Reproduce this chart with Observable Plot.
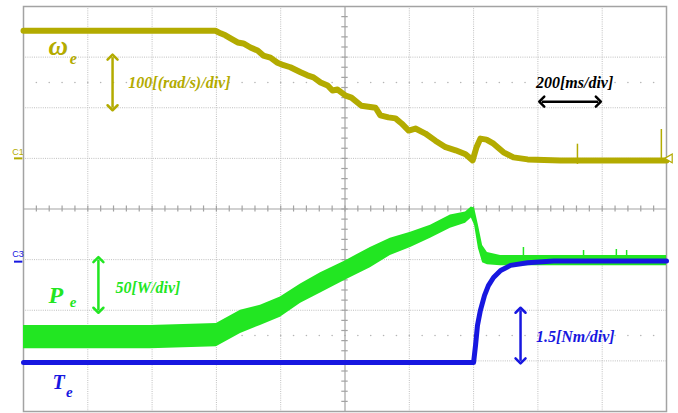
<!DOCTYPE html>
<html>
<head>
<meta charset="utf-8">
<script src="https://cdn.jsdelivr.net/npm/d3@7"></script>
<script src="https://cdn.jsdelivr.net/npm/@observablehq/plot@0.6"></script>
<style>
  html, body { margin: 0; padding: 0; background: #fff; }
  #chart svg { display: block; }
</style>
</head>
<body>
<div id="chart"></div>
<script>
// Screen: 10 horizontal divisions of 200 ms, 8 vertical divisions
const timeDomain = [0, 2000];
const divDomain = [0, 8];

// Channel scaling (units per division) and ground level (divisions from bottom)
const omegaPerDiv = 100, omegaZero = 5;
const powerPerDiv = 50, powerZero = 3;
const torquePerDiv = 1.5, torqueZero = 3;

// ω_e : electrical speed [rad/s]
const omegaTime  = [0, 597, 613, 628, 644, 666, 684, 706, 728, 746, 768, 790, 809, 830, 862, 883, 902, 924, 946, 961, 977, 1002, 1020, 1051, 1073, 1095, 1110, 1135, 1157, 1176, 1198, 1219, 1250, 1281, 1313, 1344, 1375, 1397, 1409, 1421, 1440, 1462, 1493, 1524, 1568, 1670, 2000];
const omegaValue = [252, 252, 247, 243, 237, 229, 227, 219, 213, 203, 199, 189, 184, 180, 170, 164, 160, 150, 144, 134, 136, 124, 120, 104, 102, 100, 85, 81, 79, 69, 55, 59, 49, 35, 22, 16, 8, -4, 22, 39, 37, 29, 12, 2, -2, -4, -4];
// isolated glitches on the speed trace: time, low, high
const omegaSpikeTime = [1723, 1984];
const omegaSpikeLow  = [-12, -4];
const omegaSpikeHigh = [28, 57];

// P_e : electrical power [W], upper and lower edge of the noisy trace
const powerTime  = [0, 240, 395, 600, 675, 737, 799, 862, 924, 1002, 1079, 1141, 1204, 1266, 1328, 1375, 1393, 1403, 1415, 1428, 1443, 1484, 2000];
const powerUpper = [-65, -65, -65, -63, -50, -45, -37, -24, -13, -1, 12, 21, 27, 34, 44, 47, 52, 51, 34, 14, 7, 4, 4];
const powerLower = [-88, -88, -88, -86, -73, -65, -57, -43, -33, -20, -8, 4, 12, 21, 31, 36, 41, 34, 11, -3, -5, -6, -6];
const powerSpikeTime = [1555, 1742, 1844, 1876];
const powerSpikeHigh = [12, 9, 10, 9];

// T_e : electromagnetic torque [Nm]
const torqueTime  = [0, 1400, 1406, 1412, 1421, 1434, 1446, 1462, 1484, 1515, 1568, 1649, 2000];
const torqueValue = [-3.05, -3.05, -2.54, -1.95, -1.51, -1.06, -0.77, -0.53, -0.32, -0.17, -0.09, -0.04, -0.04];

const olive = "#b3ab00";
const green = "#22e622";
const blue  = "#1717e0";
const serif = "Liberation Serif, Times New Roman, serif";

const toDiv = (v, per, zero) => zero + v / per;

const omega = omegaTime.map((t, i) => ({t, y: toDiv(omegaValue[i], omegaPerDiv, omegaZero)}));
const omegaSpikes = omegaSpikeTime.map((t, i) => ({t, y1: toDiv(omegaSpikeLow[i], omegaPerDiv, omegaZero), y2: toDiv(omegaSpikeHigh[i], omegaPerDiv, omegaZero)}));
const power = powerTime.map((t, i) => ({t, lo: toDiv(powerLower[i], powerPerDiv, powerZero), hi: toDiv(powerUpper[i], powerPerDiv, powerZero)}));
const powerSpikes = powerSpikeTime.map((t, i) => ({t, y1: toDiv(0, powerPerDiv, powerZero), y2: toDiv(powerSpikeHigh[i], powerPerDiv, powerZero)}));
const torque = torqueTime.map((t, i) => ({t, y: toDiv(torqueValue[i], torquePerDiv, torqueZero)}));

// Scale annotations: one-division arrows and their captions
const arrows = [
  {x1: 277, y1: 6, x2: 277, y2: 7, color: olive},
  {x1: 233, y1: 2, x2: 233, y2: 3, color: green},
  {x1: 1546, y1: 1, x2: 1546, y2: 2, color: blue},
  {x1: 1612, y1: 6.12, x2: 1788, y2: 6.12, color: "#000"}
];
const captions = [
  {t: 326, y: 6.5, text: "100[(rad/s)/div]", color: olive},
  {t: 1594, y: 6.5, text: "200[ms/div]", color: "#000"},
  {t: 286, y: 2.45, text: "50[W/div]", color: green},
  {t: 1594, y: 1.47, text: "1.5[Nm/div]", color: blue}
];
// Trace names with their subscripts
const symbols = [
  {t: 78, y: 7.21, text: "ω", size: 27, color: olive},
  {t: 144, y: 6.97, text: "e", size: 16, color: olive},
  {t: 78, y: 2.3, text: "P", size: 24, color: green},
  {t: 144, y: 2.16, text: "e", size: 15, color: green},
  {t: 90, y: 0.58, text: "T", size: 20, color: blue},
  {t: 132, y: 0.39, text: "e", size: 15, color: blue}
];
// Channel ground markers in the left margin
const channelTags = [
  {t: -17, y: 5.13, text: "C1", color: olive},
  {t: -17, y: 3.11, text: "C3", color: blue}
];
const channelLines = [
  {x1: -28, x2: -2, y: 5.0, color: olive},
  {x1: -28, x2: -2, y: 2.96, color: blue}
];

const gridColor = "#bfbfbf";
const axisColor = "#a3a3a3";

const chart = Plot.plot({
  width: 678,
  height: 413,
  marginLeft: 23,
  marginRight: 12,
  marginTop: 6,
  marginBottom: 2,
  x: {domain: timeDomain, axis: null},
  y: {domain: divDomain, axis: null},
  style: {background: "#fff", overflow: "visible"},
  marks: [
    // graticule
    Plot.ruleX(d3.range(200, 2000, 200).filter(t => t !== 1000), {stroke: gridColor, strokeWidth: 1, strokeDasharray: "1,1.2"}),
    Plot.ruleY([1, 2, 3, 5, 6, 7], {stroke: gridColor, strokeWidth: 1, strokeDasharray: "1,1.2"}),
    Plot.dot(d3.cross(d3.range(40, 2000, 40), [1.5, 6.5]), {x: d => d[0], y: d => d[1], r: 0.8, fill: "#b5b5b5", stroke: null}),
    Plot.ruleX([1000], {stroke: axisColor, strokeWidth: 1.2}),
    Plot.ruleY([4], {stroke: axisColor, strokeWidth: 1.2}),
    Plot.ruleX(d3.range(40, 2000, 40), {y1: 3.94, y2: 4.06, stroke: axisColor, strokeWidth: 1.2}),
    Plot.ruleY(d3.range(0.2, 8, 0.2), {x1: 990, x2: 1010, stroke: axisColor, strokeWidth: 1.2}),
    Plot.frame({stroke: axisColor, strokeWidth: 1.5}),

    // traces
    Plot.line(omega, {x: "t", y: "y", stroke: olive, strokeWidth: 6, strokeLinejoin: "round"}),
    Plot.ruleX(omegaSpikes, {x: "t", y1: "y1", y2: "y2", stroke: olive, strokeWidth: 1.5}),
    Plot.areaY(power, {x: "t", y1: "lo", y2: "hi", fill: green}),
    Plot.ruleX(powerSpikes, {x: "t", y1: "y1", y2: "y2", stroke: green, strokeWidth: 1.5}),
    Plot.line(torque, {x: "t", y: "y", stroke: blue, strokeWidth: 5, strokeLinejoin: "round"}),

    // channel markers
    Plot.text(channelTags, {x: "t", y: "y", text: "text", fill: "color", fontSize: 9, fontFamily: "Liberation Sans, Arial, sans-serif"}),
    Plot.ruleY(channelLines, {x1: "x1", x2: "x2", y: "y", stroke: "color", strokeWidth: 2}),
    Plot.dot([{t: 2010, y: 5.0}], {x: "t", y: "y", symbol: "triangle", rotate: -90, r: 3.2, stroke: olive, fill: "#fff", strokeWidth: 1.2}),

    // annotations
    Plot.link(arrows, {x1: "x1", y1: "y1", x2: "x2", y2: "y2", stroke: "color", strokeWidth: 2.5, markerStart: "arrow-reverse", markerEnd: "arrow"}),
    Plot.text(captions, {x: "t", y: "y", text: "text", fill: "color", textAnchor: "start", fontSize: 16, fontWeight: "bold", fontStyle: "italic", fontFamily: serif}),
    Plot.text(symbols, {x: "t", y: "y", text: "text", fill: "color", textAnchor: "start", fontSize: d => d.size, fontWeight: "bold", fontStyle: "italic", fontFamily: serif})
  ]
});

document.getElementById("chart").appendChild(chart);
</script>
</body>
</html>
